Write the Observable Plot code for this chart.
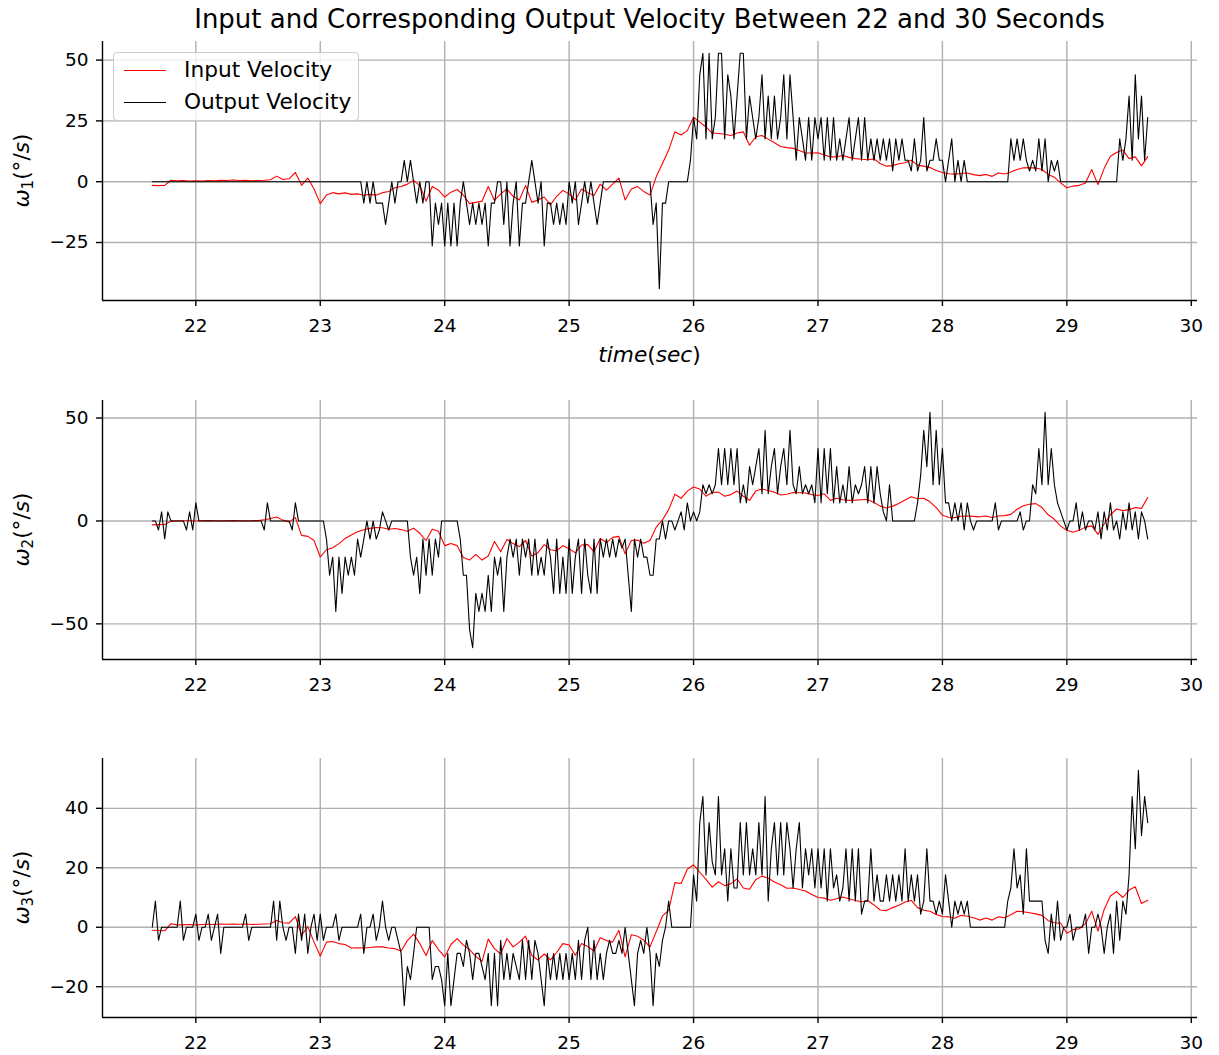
<!DOCTYPE html>
<html>
<head>
<meta charset="utf-8">
<script src="https://cdn.jsdelivr.net/npm/d3@7"></script>
<script src="https://cdn.jsdelivr.net/npm/@observablehq/plot@0.6"></script>
<style>
  body { margin: 0; background: #fff; font-family: "DejaVu Sans", sans-serif; }
  #fig { position: relative; width: 1219px; height: 1055px; background: #fff; overflow: hidden; }
  #title { position: absolute; left: 102px; width: 1095px; top: 4px; line-height: 30px; text-align: center; font-size: 26px; color: #000; white-space: nowrap; }
  .panel { position: absolute; left: 0; }
  #legend { position: absolute; left: 113px; top: 52px; width: 244px; height: 67px; border: 1.4px solid #cccccc; border-radius: 4px; background: rgba(255,255,255,0.8); font-size: 21.7px; font-family: "DejaVu Sans", sans-serif; }
  .lg-row { position: absolute; left: 0; height: 30px; width: 100%; }
  .lg-swatch { position: absolute; left: 10px; width: 42px; height: 1.2px; top: 15px; }
  .lg-text { position: absolute; left: 70px; top: 2px; line-height: 26px; white-space: nowrap; color: #000; }
</style>
</head>
<body>
<div id="fig"><div id="title">Input and Corresponding Output Velocity Between 22 and 30 Seconds</div></div>
<script>
// ---------- data ----------
const T0 = 21.65;          // first sample time (s)
const DT_IN = 0.05;        // spacing of input samples (s)
const DT_OUT = 0.025;      // spacing of output samples (s)
const xTicks = [22, 23, 24, 25, 26, 27, 28, 29, 30];
const xDomain = [21.25, 30.05];
const seriesNames = ["Input Velocity", "Output Velocity"];
const seriesColors = ["#ff0000", "#000000"];
const axisNames = ["1", "2", "3"];

const input1 = [
 -1.5,-1.6,-1.5,0.6,0.4,0.5,0.3,0.4,0.3,0.5,
 0.4,0.6,0.5,0.7,0.5,0.6,0.4,0.5,0.6,0.8,
 2.3,0.9,1.2,3.8,-1.5,1.5,-3.0,-9.0,-5.5,-4.5,
 -5.0,-4.6,-5.2,-5.0,-5.6,-5.2,-5.5,-4.5,-4.0,-2.5,
 -2.0,-1.0,0.5,-1.5,-8.0,-2.0,-3.5,-6.3,-4.3,-3.2,
 -5.5,-9.0,-8.5,-8.0,-2.0,-7.7,-5.0,-3.0,-6.0,-7.5,
 -1.5,-8.5,-7.5,-6.3,-9.5,-6.0,-3.6,-5.0,-7.5,-3.0,
 -4.5,-5.7,-1.0,-3.5,-1.0,1.5,-7.5,-3.0,-2.0,-4.0,
 -5.5,2.0,7.5,13.0,20.5,19.2,21.0,26.5,24.5,22.5,
 20.0,19.8,19.5,19.0,20.0,20.5,15.0,18.5,19.0,17.5,
 16.0,14.5,14.0,13.7,12.8,11.8,11.8,11.9,11.0,10.2,
 10.2,10.8,10.0,9.5,9.2,9.0,9.4,7.5,6.4,6.6,
 7.4,7.8,8.8,6.8,6.4,5.8,4.6,3.8,3.3,3.1,
 3.4,3.6,2.9,2.5,3.0,2.2,3.6,3.2,4.0,5.0,
 5.7,5.8,5.6,5.0,3.0,1.8,-0.5,-2.5,-1.8,-1.5,
 -0.5,5.0,-1.2,5.5,10.5,12.0,13.0,9.5,10.2,6.5,
 10.3
];
const output1 = [
 0,0,0,0,0,0,0,0,0,0,
 0,0,0,0,0,0,0,0,0,0,
 0,0,0,0,0,0,0,0,0,0,
 0,0,0,0,0,0,0,0,0,0,
 0,0,0,0,0,0,0,0,0,0,
 0,0,0,0,0,0,0,0,0,0,
 0,0,0,0,0,0,0,0,-8.8,0,
 -8.8,0,-8.8,-8.8,-8.8,-17.6,-8.8,0,-8.8,0,
 0,8.8,0,8.8,0,-8.8,0,-8.8,0,0,
 -26.4,-8.8,-17.6,-8.8,-26.4,-8.8,-26.4,-8.8,-26.4,-8.8,
 0,-8.8,-17.6,-8.8,-17.6,-8.8,-17.6,-8.8,-26.4,-8.8,
 -8.8,0,0,-17.6,0,-26.4,-8.8,0,-26.4,-8.8,
 -8.8,0,8.8,0,-8.8,0,-26.4,-8.8,-8.8,-17.6,
 -8.8,-17.6,-8.8,-17.6,0,-8.8,0,-17.6,-8.8,0,
 -8.8,0,-8.8,-17.6,-8.8,0,0,0,0,0,
 0,0,0,0,0,0,0,0,0,0,
 0,-17.6,-8.8,-44,-8.8,-8.8,0,0,0,0,
 0,0,0,8.8,26.4,17.6,44,52.8,17.6,52.8,
 17.6,26.4,52.8,52.8,17.6,44,35.2,17.6,35.2,52.8,
 52.8,17.6,35.2,26.4,17.6,26.4,44,17.6,35.2,17.6,
 35.2,17.6,26.4,44,17.6,44,26.4,8.8,26.4,17.6,
 8.8,26.4,8.8,26.4,17.6,26.4,8.8,26.4,8.8,26.4,
 8.8,17.6,8.8,17.6,26.4,8.8,17.6,26.4,8.8,26.4,
 8.8,17.6,8.8,17.6,8.8,17.6,8.8,17.6,4.4,17.6,
 8.8,17.6,8.8,8.8,4.4,17.6,4.4,8.8,26.4,4.4,
 8.8,8.8,17.6,8.8,8.8,0,8.8,17.6,0,8.8,
 0,8.8,0,0,0,0,0,0,0,0,
 0,0,0,0,0,0,17.6,8.8,17.6,8.8,
 17.6,8.8,4.4,8.8,4.4,17.6,4.4,17.6,0,8.8,
 4.4,8.8,0,0,0,0,0,0,0,0,
 0,0,0,0,0,0,0,0,0,0,
 0,17.6,8.8,17.6,35.2,8.8,44,17.6,35.2,8.8,
 26.4
];

const input2 = [
 -1.9,-1.8,-1.7,-0.1,0,0.1,0.1,0,0.1,0.2,
 0.1,0,0.1,0.2,0.1,0,0.1,0.2,0.5,1.2,
 1.9,0.4,-0.5,1.6,-7.0,-7.5,-9.5,-17.5,-14.0,-13.0,
 -11.0,-8.5,-6.8,-5.3,-4.3,-3.6,-3.2,-3.3,-4.0,-3.7,
 -4.2,-5.0,-3.5,-6.0,-9.5,-4.0,-5.0,-12.0,-11.0,-12.0,
 -17.8,-19.0,-16.2,-19.0,-17.0,-10.0,-15.0,-9.0,-11.0,-12.5,
 -9.5,-17.0,-15.4,-11.5,-14.0,-14.5,-12.0,-13.5,-15.5,-11.7,
 -11.5,-15.0,-8.5,-10.5,-8.0,-7.5,-16.0,-9.5,-9.3,-10.8,
 -9.5,-3.0,0.5,5.5,13.0,11.0,14.5,16.5,15.5,12.0,
 13.8,14.0,12.0,12.8,14.5,12.0,10.0,14.5,15.5,14.8,
 14.0,12.6,13.0,13.8,13.7,13.6,12.8,12.4,13.2,10.0,
 11.0,10.3,10.0,10.1,10.3,10.4,9.0,7.2,6.3,7.2,
 8.5,10.2,11.8,10.8,11.0,9.3,6.5,2.8,1.8,1.6,
 2.3,2.4,2.2,2.0,2.4,1.7,2.4,2.6,3.2,5.7,
 7.4,8.1,8.4,6.5,3.0,0.8,-2.5,-4.5,-5.5,-4.5,
 -3.0,-2.4,-6.5,-1.5,3.0,5.8,5.0,5.5,6.5,6.1,
 11.4
];
const output2 = [
 0,0,-4.4,4.4,-8.8,4.4,0,0,0,0,
 0,-4.4,4.4,-4.4,8.8,0,0,0,0,0,
 0,0,0,0,0,0,0,0,0,0,
 0,0,0,0,0,0,-4.4,8.8,0,0,
 0,0,0,0,0,-4.4,8.8,0,0,0,
 0,0,0,0,0,0,-8.8,-26.4,-17.6,-44,
 -17.6,-35.2,-17.6,-26.4,-17.6,-26.4,-8.8,-17.6,-8.8,0,
 -8.8,0,-8.8,-4.4,4.4,0,-4.4,0,0,0,
 0,0,0,-17.6,-26.4,-17.6,-35.2,-8.8,-26.4,-8.8,
 -26.4,-8.8,-17.6,0,0,0,0,0,0,-8.8,
 -26.4,-26.4,-52.8,-61.6,-35.2,-44,-35.2,-44,-26.4,-44,
 -17.6,-26.4,-17.6,-44,-17.6,-8.8,-17.6,-8.8,-26.4,-8.8,
 -17.6,-8.8,-26.4,-8.8,-26.4,-17.6,-26.4,-8.8,-17.6,-35.2,
 -8.8,-35.2,-17.6,-35.2,-8.8,-35.2,-17.6,-8.8,-35.2,-8.8,
 -26.4,-35.2,-8.8,-35.2,-8.8,-17.6,-8.8,-17.6,-8.8,-17.6,
 -8.8,-13.2,-8.8,-26.4,-44,-8.8,-17.6,-8.8,-17.6,-17.6,
 -26.4,-26.4,-8.8,-8.8,0,-8.8,0,0,-4.4,0,
 4.4,-4.4,8.8,0,4.4,0,4.4,17.6,13.2,17.6,
 13.2,17.6,35.2,17.6,35.2,17.6,35.2,17.6,35.2,8.8,
 17.6,8.8,26.4,17.6,26.4,35.2,13.2,44,13.2,26.4,
 35.2,13.2,26.4,35.2,17.6,44,17.6,13.2,26.4,13.2,
 17.6,13.2,17.6,8.8,35.2,8.8,35.2,13.2,35.2,8.8,
 26.4,8.8,17.6,8.8,26.4,8.8,17.6,13.2,17.6,26.4,
 8.8,26.4,8.8,26.4,13.2,4.4,0,17.6,0,0,
 0,0,0,0,0,0,8.8,22,44,26.4,
 52.8,17.6,44,17.6,35.2,8.8,8.8,0,8.8,0,
 8.8,-4.4,8.8,0,-4.4,0,0,0,0,0,
 0,8.8,-4.4,0,0,0,0,0,0,4.4,
 -4.4,0,0,17.6,13.2,35.2,17.6,52.8,17.6,35.2,
 17.6,8.8,4.4,0,-4.4,0,0,8.8,-4.4,4.4,
 -4.4,0,0,-4.4,4.4,-8.8,4.4,-4.4,8.8,-4.4,
 0,-8.8,4.4,-4.4,8.8,-4.4,4.4,-8.8,4.4,0,
 -8.8
];

const input3 = [
 -1.0,-1.1,-1.2,1.2,0.8,0.8,0.9,0.8,0.9,1.0,
 0.9,1.1,1.0,1.1,1.0,1.1,0.9,1.0,1.1,1.2,
 2.3,1.5,1.4,3.6,-2.7,0.2,-5.0,-9.7,-5.0,-4.8,
 -5.5,-5.8,-7.0,-6.9,-7.0,-6.8,-6.6,-6.6,-7.0,-7.2,
 -8.0,-4.5,-2.3,-5.5,-9.5,-4.5,-7.5,-10.0,-5.8,-3.8,
 -6.0,-7.5,-9.8,-11.5,-4.0,-7.2,-9.0,-3.8,-6.6,-5.0,
 -3.0,-9.5,-11.0,-9.0,-11.0,-8.5,-5.5,-6.0,-9.4,-5.5,
 -6.5,-8.0,-3.5,-4.5,-5.0,-1.0,-10.0,-2.5,-3.0,-4.4,
 -6.6,-1.5,3.8,5.7,15.0,14.7,19.5,21.0,18.5,16.1,
 13.5,15.3,14.0,14.6,16.3,13.2,12.8,16.0,17.2,16.5,
 15.2,14.3,13.1,13.2,12.7,12.2,11.0,10.0,9.8,9.1,
 9.6,10.2,9.6,9.0,8.6,9.0,7.5,5.8,5.6,6.6,
 7.4,8.5,9.0,6.6,5.7,5.4,4.3,3.6,3.5,3.0,
 4.0,3.7,3.2,2.4,3.1,2.4,3.5,3.2,4.2,5.4,
 5.2,4.9,4.5,4.0,2.2,1.5,1.4,-2.0,-0.8,-0.5,
 1.2,5.4,-1.3,6.0,10.5,12.0,10.0,12.5,13.6,8.0,
 9.1
];
const output3 = [
 0,8.8,-4.4,0,0,0,0,0,0,8.8,
 -4.4,0,0,0,4.4,-4.4,0,0,4.4,-4.4,
 0,4.4,-8.8,0,0,0,0,0,0,0,
 4.4,-4.4,0,0,0,0,0,0,0,8.8,
 -4.4,8.8,0,-4.4,0,0,-8.8,4.4,-4.4,4.4,
 -8.8,0,4.4,-4.4,4.4,-4.4,0,0,0,4.4,
 -4.4,0,0,0,0,0,0,4.4,-8.8,0,
 0,4.4,-4.4,0,8.8,0,-4.4,0,0,-4.4,
 -8.8,-26.4,-13.2,-17.6,-8.8,0,0,0,0,0,
 -17.6,-13.2,-13.2,-17.6,-26.4,-8.8,-26.4,-17.6,-8.8,-8.8,
 -13.2,-4.4,-8.8,-17.6,-8.8,-8.8,-13.2,-17.6,-8.8,-26.4,
 -8.8,-26.4,-4.4,-17.6,-8.8,-17.6,-8.8,-13.2,-17.6,-4.4,
 -17.6,-4.4,-17.6,-4.4,-8.8,-17.6,-26.4,-8.8,-17.6,-8.8,
 -17.6,-8.8,-17.6,-8.8,-17.6,-8.8,-17.6,-4.4,-17.6,-4.4,
 0,-17.6,-4.4,-17.6,-8.8,-17.6,-8.8,-4.4,-8.8,-8.8,
 -4.4,-8.8,0,-8.8,-17.6,-26.4,-8.8,-4.4,-8.8,0,
 -8.8,-26.4,-8.8,-13.2,-4.4,0,8.8,0,0,0,
 0,0,0,0,17.6,8.8,35.2,44,17.6,35.2,
 22,17.6,44,17.6,26.4,8.8,26.4,13.2,13.2,35.2,
 17.6,35.2,17.6,26.4,17.6,35.2,17.6,44,8.8,26.4,
 35.2,17.6,35.2,17.6,35.2,26.4,13.2,26.4,35.2,13.2,
 26.4,17.6,26.4,13.2,26.4,13.2,26.4,8.8,26.4,13.2,
 17.6,8.8,13.2,26.4,8.8,26.4,8.8,26.4,4.4,8.8,
 8.8,26.4,8.8,17.6,8.8,8.8,17.6,8.8,17.6,8.8,
 17.6,8.8,26.4,8.8,17.6,8.8,17.6,4.4,8.8,26.4,
 8.8,8.8,4.4,8.8,4.4,17.6,8.8,0,8.8,4.4,
 8.8,4.4,8.8,0,0,0,0,0,0,0,
 0,0,0,0,0,8.8,13.2,26.4,13.2,17.6,
 4.4,26.4,8.8,8.8,8.8,8.8,8.8,-4.4,-8.8,4.4,
 -4.4,8.8,-4.4,0,0,4.4,-4.4,0,0,0,
 4.4,-8.8,0,0,4.4,0,-8.8,0,4.4,-8.8,
 8.8,-4.4,8.8,4.4,17.6,44,26.4,52.8,30.8,44,
 35.2
];

const yDomains = [[-48.84, 57.64], [-67.32, 58.52], [-30.36, 56.76]];
const yTickSets = [[-25, 0, 25, 50], [-50, 0, 50], [-20, 0, 20, 40]];

// ---------- drawing ----------
const FONT = "DejaVu Sans";
const TICK_FS = 18.5;
const LABEL_FS = 21.7;
const PLOT_H = 259;
const MT = 10;
const panels = [
  { input: input1, output: output1, top: 31,  mb: 70, xlabel: true },
  { input: input2, output: output2, top: 390, mb: 45, xlabel: false },
  { input: input3, output: output3, top: 748, mb: 38, xlabel: false }
];

const fig = document.getElementById("fig");

panels.forEach((p, k) => {
  const yDomain = yDomains[k];
  const yTicks = yTickSets[k];
  const inData = p.input.map((v, i) => ({ t: T0 + i * DT_IN, v }));
  const outData = p.output.map((v, i) => ({ t: T0 + i * DT_OUT, v }));
  const gridStyle = { stroke: "#b0b0b0", strokeOpacity: 1, strokeWidth: 1.4 };
  const chart = Plot.plot({
    width: 1219,
    height: MT + PLOT_H + p.mb,
    marginTop: MT,
    marginLeft: 102,
    marginRight: 22,
    marginBottom: p.mb,
    style: { fontFamily: FONT, fontSize: TICK_FS + "px", background: "transparent", overflow: "visible", color: "#000" },
    x: { domain: xDomain },
    y: { domain: yDomain },
    marks: [
      Plot.gridX(xTicks, gridStyle),
      Plot.gridY(yTicks, gridStyle),
      Plot.line(inData, { x: "t", y: "v", stroke: seriesColors[0], strokeWidth: 1.1 }),
      Plot.line(outData, { x: "t", y: "v", stroke: seriesColors[1], strokeWidth: 1.1 }),
      Plot.ruleX([xDomain[0]], { stroke: "#000", strokeWidth: 1.4 }),
      Plot.ruleY([yDomain[0]], { stroke: "#000", strokeWidth: 1.4 }),
      Plot.axisX(xTicks, { tickSize: 6, tickPadding: 12, label: null, fontSize: TICK_FS, strokeWidth: 1.4, tickFormat: d3.format("d") }),
      Plot.axisY(yTicks, { tickSize: 6, tickPadding: 8, label: null, fontSize: TICK_FS, strokeWidth: 1.4 })
    ]
  });
  chart.classList.add("panel");
  chart.style.top = p.top + "px";
  fig.appendChild(chart);

  const svg = d3.select(chart);
  // y label: ω_k (°/s)
  const yl = svg.append("text")
    .attr("transform", `translate(29, ${MT + PLOT_H / 2}) rotate(-90)`)
    .attr("text-anchor", "middle")
    .style("font-family", FONT)
    .style("font-size", LABEL_FS + "px")
    .attr("fill", "#000");
  yl.append("tspan").style("font-style", "italic").text("ω");
  yl.append("tspan").attr("baseline-shift", "-25%").style("font-size", "15px").text(axisNames[k]);
  yl.append("tspan").text("(°/");
  yl.append("tspan").style("font-style", "italic").text("s");
  yl.append("tspan").text(")");

  if (p.xlabel) {
    const xl = svg.append("text")
      .attr("x", 102 + (1219 - 102 - 22) / 2)
      .attr("y", 323)
      .attr("dy", "0.35em")
      .attr("text-anchor", "middle")
      .style("font-family", FONT)
      .style("font-size", LABEL_FS + "px")
      .attr("fill", "#000");
    xl.append("tspan").style("font-style", "italic").text("time");
    xl.append("tspan").text("(");
    xl.append("tspan").style("font-style", "italic").text("sec");
    xl.append("tspan").text(")");
  }
});

// legend (HTML overlay inside the top panel)
const legend = document.createElement("div");
legend.id = "legend";
seriesNames.forEach((name, s) => {
  const row = document.createElement("div");
  row.className = "lg-row";
  row.style.top = (2 + s * 31.7) + "px";
  const sw = document.createElement("div");
  sw.className = "lg-swatch";
  sw.style.background = seriesColors[s];
  const tx = document.createElement("div");
  tx.className = "lg-text";
  tx.textContent = name;
  row.appendChild(sw);
  row.appendChild(tx);
  legend.appendChild(row);
});
fig.appendChild(legend);
</script>
</body>
</html>
